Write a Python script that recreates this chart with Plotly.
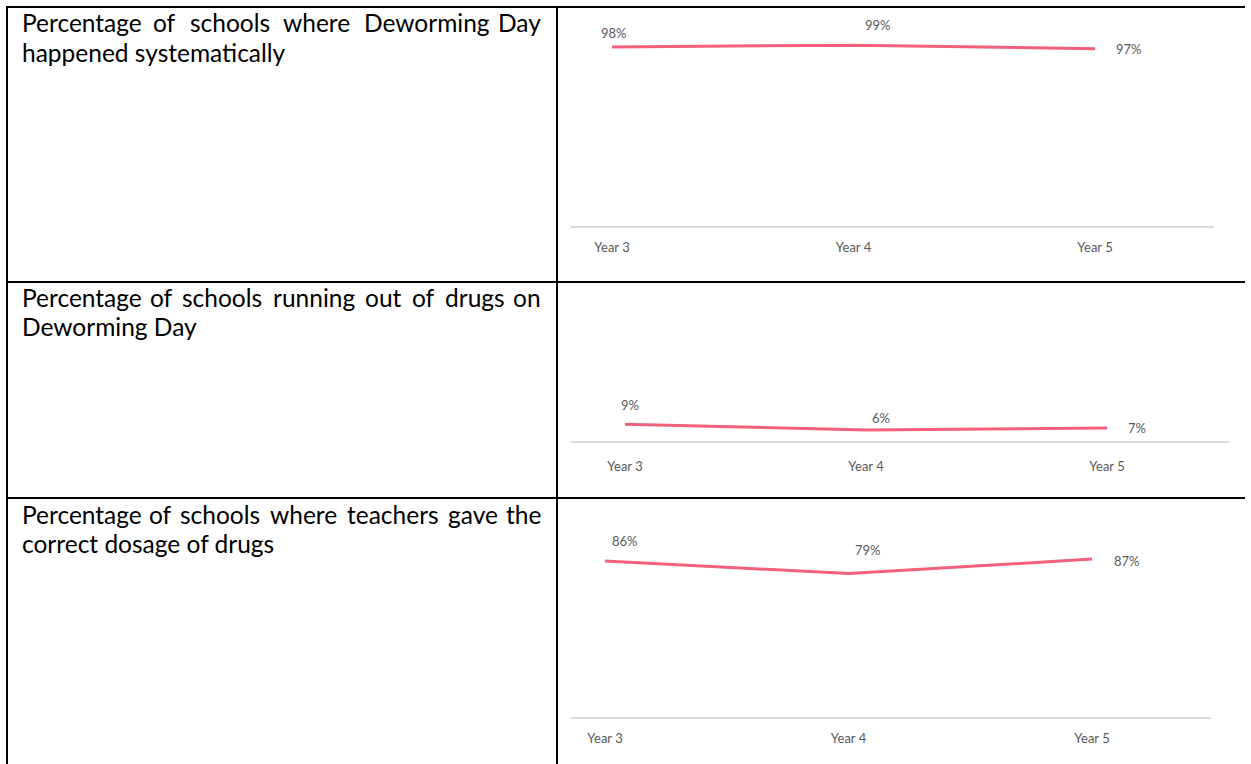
import plotly.graph_objects as go

# ---------------- data ----------------
years = ["Year 3", "Year 4", "Year 5"]
systematic = [98, 99, 97]
ran_out = [9, 6, 7]
correct_dosage = [86, 79, 87]

row_line1 = [
    "Percentage of schools where Deworming Day",
    "Percentage of schools running out of drugs on",
    "Percentage of schools where teachers gave the",
]
row_line2 = [
    "happened systematically",
    "Deworming Day",
    "correct dosage of drugs",
]

# ---------------- layout helpers (pixels) ----------------
W, H = 1251, 764


def px(x):
    return x / W


def py(y):
    return 1 - y / H


LINE_COLOR = "#F2607C"
GRID_COLOR = "#D9D9D9"
LABEL_COLOR = "#595959"
FONT = "Lato, Carlito, Calibri, sans-serif"
CHART_FONT_SIZE = 13

charts = [
    dict(vals=systematic, x0=571, x1=1214, c0=612, step=241.5, base=226, ppu=1.827,
         offs=[(2, 14), (24, 20), (34, 0)], stand=9),
    dict(vals=ran_out, x0=571, x1=1229, c0=625, step=241.0, base=441, ppu=1.85,
         offs=[(5, 19), (15, 12), (30, 0)], stand=13),
    dict(vals=correct_dosage, x0=571, x1=1211, c0=605, step=243.5, base=717, ppu=1.815,
         offs=[(20, 20), (19, 24), (35, -2)], stand=9),
]

fig = go.Figure()
annotations = []

for i, c in enumerate(charts):
    n = i + 1
    xa = "x" if n == 1 else f"x{n}"
    ya = "y" if n == 1 else f"y{n}"
    fig.add_trace(go.Scatter(
        x=years, y=c["vals"], mode="lines",
        line=dict(color=LINE_COLOR, width=3),
        xaxis=xa, yaxis=ya, showlegend=False, hoverinfo="x+y",
    ))
    xr = [(c["x0"] - c["c0"]) / c["step"], (c["x1"] - c["c0"]) / c["step"]]
    top = c["base"] - 100 * c["ppu"]
    xkey = "xaxis" if n == 1 else f"xaxis{n}"
    ykey = "yaxis" if n == 1 else f"yaxis{n}"
    fig.update_layout(**{
        xkey: dict(domain=[px(c["x0"]), px(c["x1"])], range=xr, type="category",
                   anchor=ya, showline=True, linecolor=GRID_COLOR, linewidth=1.5,
                   showgrid=False, zeroline=False, ticks="outside", ticklen=c["stand"],
                   tickcolor="rgba(0,0,0,0)",
                   tickfont=dict(family=FONT, size=CHART_FONT_SIZE, color=LABEL_COLOR),
                   fixedrange=True),
        ykey: dict(domain=[py(c["base"]), py(top)], range=[0, 100], anchor=xa,
                   visible=False, showgrid=False, zeroline=False, fixedrange=True),
    })
    for j, (yr, v) in enumerate(zip(years, c["vals"])):
        dx, dy = c["offs"][j]
        annotations.append(dict(
            x=yr, y=v, xref=xa, yref=ya, text=f"{v}%", showarrow=False,
            xshift=dx, yshift=dy, xanchor="center", yanchor="middle",
            font=dict(family=FONT, size=CHART_FONT_SIZE, color=LABEL_COLOR),
        ))

# ---------------- left column text ----------------
CAL = {
    " ": 226, "P": 517, "D": 615, "a": 479, "b": 525, "c": 423, "d": 525, "e": 498,
    "f": 305, "g": 471, "h": 525, "i": 229, "k": 455, "l": 229, "m": 799, "n": 525,
    "o": 527, "p": 525, "r": 349, "s": 391, "t": 335, "u": 525, "v": 452, "w": 715,
    "y": 453,
}
TXT_SIZE = 24.5
SCALE = 1.061


def tw(s):
    return sum(CAL.get(ch, 500) for ch in s) / 1000 * TXT_SIZE * SCALE


LEFT, RIGHT = 20, 543
line1_y = [23, 297, 514]
LINE_GAP = 29

for k in range(3):
    words = row_line1[k].split()
    widths = [tw(w) for w in words]
    gap = (RIGHT - LEFT - sum(widths)) / (len(words) - 1)
    x = LEFT
    for j, (w, wd) in enumerate(zip(words, widths)):
        if j == 0:
            xpos, anc = LEFT, "left"
        elif j == len(words) - 1:
            xpos, anc = RIGHT, "right"
        else:
            xpos, anc = x + wd / 2, "center"
        annotations.append(dict(
            x=px(xpos), y=py(line1_y[k]), xref="paper", yref="paper", text=w,
            showarrow=False, xanchor=anc, yanchor="middle",
            font=dict(family=FONT, size=TXT_SIZE, color="#000000"),
        ))
        x += wd + gap
    annotations.append(dict(
        x=px(LEFT), y=py(line1_y[k] + LINE_GAP), xref="paper", yref="paper",
        text=row_line2[k], showarrow=False, xanchor="left", yanchor="middle",
        font=dict(family=FONT, size=TXT_SIZE, color="#000000"),
    ))

# ---------------- table borders ----------------
shapes = []


def hline(y, x0, x1, w=2):
    shapes.append(dict(type="line", xref="paper", yref="paper", x0=px(x0), x1=px(x1),
                       y0=py(y), y1=py(y), line=dict(color="#000000", width=w)))


def vline(x, y0, y1, w=2):
    shapes.append(dict(type="line", xref="paper", yref="paper", x0=px(x), x1=px(x),
                       y0=py(y0), y1=py(y1), line=dict(color="#000000", width=w)))


hline(7, 6, 1245)
hline(282, 6, 1245)
hline(498, 6, 1245)
vline(7, 6, 764)
vline(557, 6, 764)

fig.update_layout(
    width=W, height=H, margin=dict(l=0, r=0, t=0, b=0),
    paper_bgcolor="white", plot_bgcolor="white",
    annotations=annotations, shapes=shapes, showlegend=False,
)

fig.write_html(
    "out.html",
    config={"displayModeBar": False},
    post_script="document.body.style.margin='0';document.body.style.overflow='hidden';",
)
